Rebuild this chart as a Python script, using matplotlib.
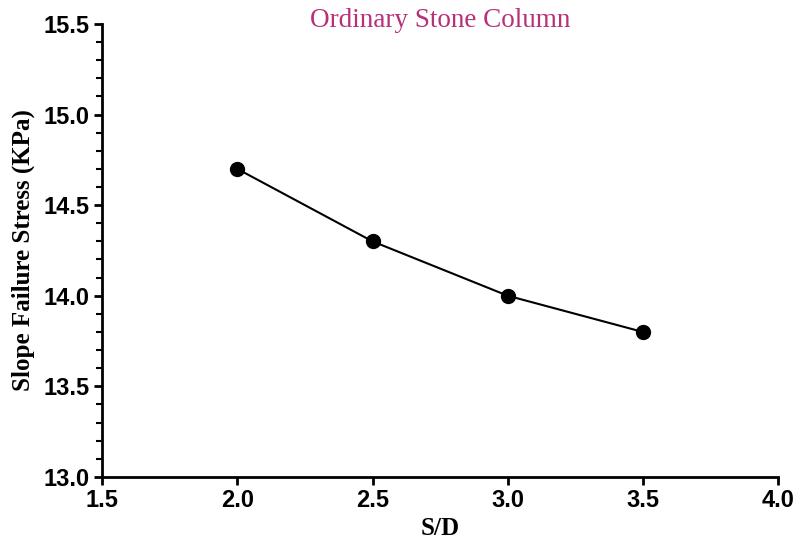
import matplotlib.pyplot as plt
from matplotlib.ticker import MultipleLocator

# Data
sd = [2.0, 2.5, 3.0, 3.5]
stress = [14.7, 14.3, 14.0, 13.8]
x_ticks = [1.5, 2.0, 2.5, 3.0, 3.5, 4.0]
y_ticks = [13.0, 13.5, 14.0, 14.5, 15.0, 15.5]

fig = plt.figure(figsize=(7.98, 5.45), dpi=100)
ax = fig.add_axes([0.128, 0.125, 0.847, 0.831])

ax.plot(sd, stress, color="black", linewidth=1.5, marker="o", markersize=10, zorder=3)

ax.set_xlim(1.5, 4.0)
ax.set_ylim(13.0, 15.5)
ax.set_xticks(x_ticks)
ax.set_yticks(y_ticks)
ax.set_xticklabels([f"{v:.1f}" for v in x_ticks])
ax.set_yticklabels([f"{v:.1f}" for v in y_ticks])
ax.yaxis.set_minor_locator(MultipleLocator(0.1))

for side in ["top", "right"]:
    ax.spines[side].set_visible(False)
for side in ["left", "bottom"]:
    ax.spines[side].set_linewidth(2)

ax.tick_params(axis="both", which="major", direction="out", length=6, width=2, pad=3)
ax.tick_params(axis="y", which="minor", direction="out", length=4, width=1.5)
for lbl in ax.get_xticklabels() + ax.get_yticklabels():
    lbl.set_fontfamily("Liberation Sans")
    lbl.set_fontweight("bold")
    lbl.set_fontsize(17)

ax.set_xlabel("S/D", fontfamily="Liberation Serif", fontweight="bold", fontsize=18)
ax.set_ylabel("Slope Failure Stress (KPa)", fontfamily="Liberation Serif", fontweight="bold",
              fontsize=18)
ax.xaxis.set_label_coords(0.5, -0.088)
ax.yaxis.set_label_coords(-0.099, 0.5)

fig.text(0.552, 0.962, "Ordinary Stone Column", color="#b8307a", fontfamily="Liberation Serif",
         fontsize=19.5, ha="center", va="center")

fig.savefig("out.png", dpi=100)
